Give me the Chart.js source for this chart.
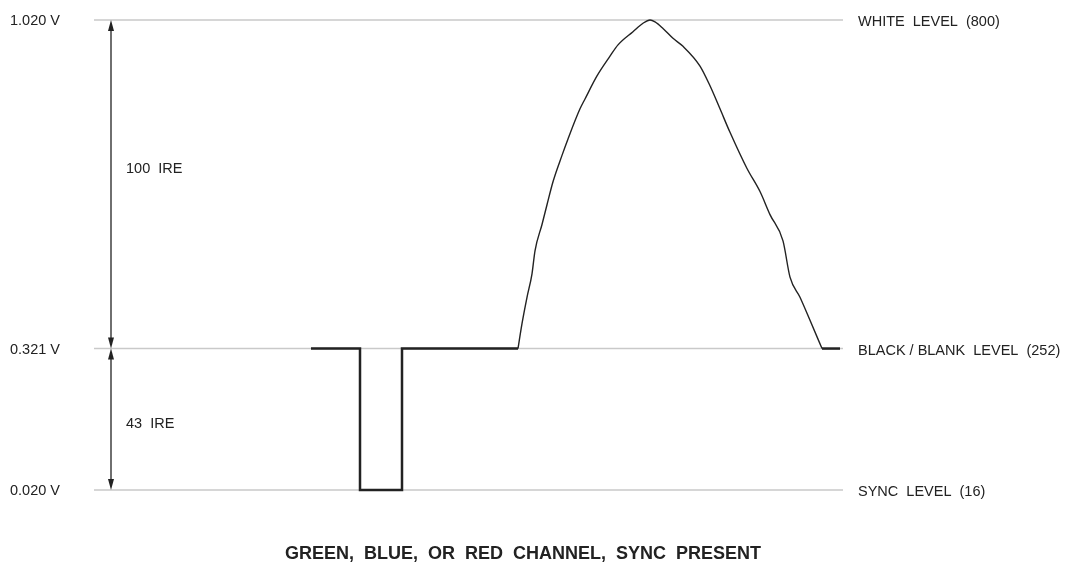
<!DOCTYPE html>
<html>
<head>
<meta charset="utf-8">
<script src="https://cdn.jsdelivr.net/npm/chart.js@4"></script>
<style>
  html, body { margin: 0; padding: 0; background: #fff; }
  #wrap { width: 1066px; height: 566px; }
</style>
</head>
<body>
<div id="wrap"><canvas id="chart" width="1066" height="566"></canvas></div>
<script>
// levels (volts) and their labels
const levelV = [1.020, 0.321, 0.020]
const leftLabels = ["1.020 V", "0.321 V", "0.020 V"]
const rightLabels = ["WHITE  LEVEL  (800)", "BLACK / BLANK  LEVEL  (252)", "SYNC  LEVEL  (16)"]
const ireLabels = ["100  IRE", "43  IRE"]
const titulo = "GREEN,  BLUE,  OR  RED  CHANNEL,  SYNC  PRESENT"

// horizontal extent of the level lines (time axis, arbitrary units)
const lineT = [94, 843]

// sync pulse + blanking
const pulseT = [311, 360, 360, 402, 402, 518]
const pulseV = [0.321, 0.321, 0.020, 0.020, 0.321, 0.321]

// video (the bump)
const bellT = [518, 522, 527, 532, 535, 542, 547, 553, 562, 568, 580, 585, 597, 610, 618, 633, 643, 650, 655, 663, 673, 683, 700, 710, 720, 730, 747, 760, 770, 783, 790, 800, 810, 822]
const bellV = [0.321, 0.374, 0.430, 0.480, 0.529, 0.585, 0.627, 0.676, 0.732, 0.767, 0.831, 0.852, 0.901, 0.943, 0.967, 0.995, 1.013, 1.020, 1.016, 1.002, 0.981, 0.964, 0.922, 0.880, 0.831, 0.781, 0.704, 0.655, 0.606, 0.550, 0.473, 0.430, 0.381, 0.321]

// back to blanking
const tailT = [822, 840]
const tailV = [0.321, 0.321]

const toXY = (ts, vs) => ts.map((t, i) => ({ x: t, y: vs[i] }))

const datasets = levelV.map((v) => ({
    data: toXY(lineT, [v, v]),
    borderColor: '#c9c9c9',
    borderWidth: 1.5,
    pointRadius: 0,
    clip: false,
    order: 10
}))
datasets.push({ data: toXY(pulseT, pulseV), borderColor: '#222', borderWidth: 2.5, pointRadius: 0, clip: false, borderJoinStyle: 'miter', order: 1 })
datasets.push({ data: toXY(bellT, bellV), borderColor: '#222', borderWidth: 1.4, pointRadius: 0, clip: false, cubicInterpolationMode: 'monotone', order: 1 })
datasets.push({ data: toXY(tailT, tailV), borderColor: '#222', borderWidth: 2.5, pointRadius: 0, clip: false, order: 1 })

/* textos, flechas y titulo */
const anotaciones = {
    id: 'anotaciones',
    afterDatasetsDraw(chart) {
        const ctx = chart.ctx
        const ys = chart.scales.y
        ctx.save()
        ctx.fillStyle = '#222'
        ctx.font = '14.5px "Liberation Sans", Arial, sans-serif'
        ctx.textBaseline = 'middle'
        levelV.forEach((v, i) => {
            const py = ys.getPixelForValue(v)
            ctx.textAlign = 'left'
            ctx.fillText(leftLabels[i], 10, py + 1)
            ctx.fillText(rightLabels[i], 858, py + 2)
        })

        // flechas dobles
        const ax = 111
        const flecha = (y1, y2) => {
            ctx.strokeStyle = '#222'
            ctx.lineWidth = 1.3
            ctx.beginPath()
            ctx.moveTo(ax, y1 + 8)
            ctx.lineTo(ax, y2 - 8)
            ctx.stroke()
            ctx.beginPath()
            ctx.moveTo(ax, y1); ctx.lineTo(ax - 3, y1 + 11); ctx.lineTo(ax + 3, y1 + 11); ctx.closePath()
            ctx.fill()
            ctx.beginPath()
            ctx.moveTo(ax, y2); ctx.lineTo(ax - 3, y2 - 11); ctx.lineTo(ax + 3, y2 - 11); ctx.closePath()
            ctx.fill()
        }
        const yW = ys.getPixelForValue(levelV[0])
        const yB = ys.getPixelForValue(levelV[1])
        const yS = ys.getPixelForValue(levelV[2])
        flecha(yW, yB)
        flecha(yB, yS)
        ctx.fillText(ireLabels[0], 126, 169)
        ctx.fillText(ireLabels[1], 126, 424)

        ctx.font = 'bold 18px "Liberation Sans", Arial, sans-serif'
        ctx.textAlign = 'center'
        ctx.fillText(titulo, 523, 554)
        ctx.restore()
    }
}

new Chart(document.getElementById('chart'), {
    type: 'line',
    data: { datasets },
    options: {
        responsive: false,
        animation: false,
        layout: { padding: { left: 94, right: 223, top: 20, bottom: 78 } },
        plugins: { legend: { display: false }, tooltip: { enabled: false } },
        scales: {
            x: { type: 'linear', display: false, min: lineT[0], max: lineT[1] },
            y: { type: 'linear', display: false, min: 0.0243, max: 1.020 }
        }
    },
    plugins: [anotaciones]
})
</script>
</body>
</html>
